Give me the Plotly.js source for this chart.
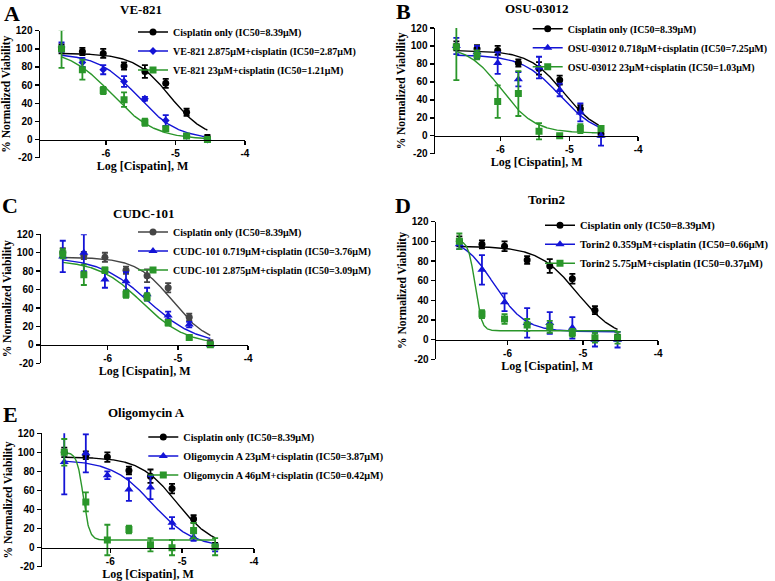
<!DOCTYPE html>
<html><head><meta charset="utf-8">
<script src="https://cdn.plot.ly/plotly-3.0.1.min.js"></script>
<style>html,body{margin:0;padding:0;background:#fff}#chart{width:775px;height:581px}</style>
</head><body><div id="chart"></div>
<script>
// ---------- DATA ----------
// x positions: log10 of cisplatin molar concentration
const logConc = [-6.64, -6.34, -6.04, -5.74, -5.44, -5.14, -4.84, -4.54];
const xTickVals = [-6, -5, -4];
const xTickText = ['-6', '-5', '-4'];
const yTickVals = [-20, 0, 20, 40, 60, 80, 100, 120];
const yTickText = ['-20', '0', '20', '40', '60', '80', '100', '120'];

const panelLetters = ['A', 'B', 'C', 'D', 'E'];
const panelTitles = ['VE-821', 'OSU-03012', 'CUDC-101', 'Torin2', 'Oligomycin A'];

// Cisplatin only control (same in every panel)
const cisName = 'Cisplatin only (IC50=8.39μM)';
const cisMean = [100, 97, 95, 81, 75, 62, 30, 2];
const cisSD = [5, 4, 5, 4, 7, 5, 4, 3];
// fitted dose-response parameters: [top, bottom, IC50 (μM), Hill slope]
const cisFit = [95, 0, 8.39, 1.7];

// A: VE-821
const aNames = ['VE-821 2.875μM+cisplatin (IC50=2.87μM)', 'VE-821 23μM+cisplatin (IC50=1.21μM)'];
const aLowMean = [102, 85, 77, 64, 45, 21, 4, 0];
const aLowSD = [5, 5, 5, 6, 2, 6, 2, 2];
const aHighMean = [100, 77, 54, 44, 19, 12, 4, 0];
const aHighSD = [21, 11, 4, 8, 4, 2, 2, 2];
const aLowFit = [95, 0, 2.87, 1.5];
const aHighFit = [100, 0, 1.21, 1.4];

// B: OSU-03012
const bNames = ['OSU-03012 0.718μM+cisplatin (IC50=7.25μM)', 'OSU-03012 23μM+cisplatin (IC50=1.03μM)'];
const bLowMean = [100, 93, 81, 63, 76, 51, 26, 0];
const bLowSD = [9, 7, 12, 8, 12, 7, 10, 11];
const bHighMean = [99, 90, 38, 47, 5, 0, 8, 8];
const bHighSD = [37, 5, 18, 25, 9, 1, 5, 3];
const bLowFit = [90, 0, 7.25, 1.6];
const bHighFit = [100, 3, 1.03, 1.8];

// C: CUDC-101
const cNames = ['CUDC-101 0.719μM+cisplatin (IC50=3.76μM)', 'CUDC-101 2.875μM+cisplatin (IC50=3.09μM)'];
const cLowMean = [96, 100, 71, 69, 55, 32, 22, 0];
const cLowSD = [17, 20, 9, 10, 7, 4, 3, 2];
const cHighMean = [99, 76, 81, 55, 52, 24, 8, 0];
const cHighSD = [5, 11, 3, 4, 4, 3, 2, 2];
const cLowFit = [95, 0, 3.76, 1.25];
const cHighFit = [92, 0, 3.09, 1.38];

// D: Torin2
const dNames = ['Torin2 0.359μM+cisplatin (IC50=0.66μM)', 'Torin2 5.75μM+cisplatin (IC50=0.37μM)'];
const dLowMean = [97, 71, 38, 17, 17, 12, 0, 0];
const dLowSD = [5, 15, 9, 15, 11, 11, 7, 8];
const dHighMean = [100, 26, 21, 15, 13, 7, 2, 2];
const dHighSD = [8, 4, 5, 6, 6, 4, 5, 6];
const dLowFit = [105, 8, 0.66, 2.1];
const dHighFit = [101, 9, 0.37, 10];

// E: Oligomycin A
const eNames = ['Oligomycin A 23μM+cisplatin (IC50=3.87μM)', 'Oligomycin A 46μM+cisplatin (IC50=0.42μM)'];
const eLowMean = [90, 99, 76, 61, 63, 26, 11, 0];
const eLowSD = [34, 20, 4, 12, 12, 6, 4, 4];
const eHighMean = [100, 48, 8, 19, 3, 0, 18, 1];
const eHighSD = [14, 10, 16, 4, 7, 8, 8, 9];
const eLowFit = [92, 0, 3.87, 1.54];
const eHighFit = [100, 8, 0.42, 10];

// ---------- LAYOUT / STYLE ----------
const W = 775, H = 581;
const fx = p => p / W, fy = p => 1 - p / H;
const SERIF = 'Liberation Serif, Times New Roman, serif';
const SANS = 'Liberation Sans, Arial, sans-serif';
const BLUE = '#1414d6', GREEN = '#2a962a';

const panels = [
  {names: aNames, low: [aLowMean, aLowSD, aLowFit], high: [aHighMean, aHighSD, aHighFit], blackColor: '#000000', lowSym: 'diamond', lowSize: 6,
   xd: [40, 245], yd: [30.7, 157.7], letter: [12, 14], title: [141, 10], leg: [133, 17.5], legSize: 10},
  {names: bNames, low: [bLowMean, bLowSD, bLowFit], high: [bHighMean, bHighSD, bHighFit], blackColor: '#000000', lowSym: 'triangle-up', lowSize: 8,
   xd: [435, 638.3], yd: [28, 153.7], letter: [403.5, 11], title: [536.7, 8], leg: [527.7, 14.2], legSize: 10},
  {names: cNames, low: [cLowMean, cLowSD, cLowFit], high: [cHighMean, cHighSD, cHighFit], blackColor: '#454545', lowSym: 'triangle-up', lowSize: 8,
   xd: [41, 248.3], yd: [234.3, 363.3], letter: [10, 205.5], title: [143, 214], leg: [133, 217.5], legSize: 10},
  {names: dNames, low: [dLowMean, dLowSD, dLowFit], high: [dHighMean, dHighSD, dHighFit], blackColor: '#000000', lowSym: 'triangle-up', lowSize: 8,
   xd: [436, 658.3], yd: [221.7, 359.3], letter: [402.5, 205.5], title: [546.7, 199.3], leg: [540, 210.8], legSize: 10.5},
  {names: eNames, low: [eLowMean, eLowSD, eLowFit], high: [eHighMean, eHighSD, eHighFit], blackColor: '#000000', lowSym: 'triangle-up', lowSize: 8,
   xd: [42, 254], yd: [433.3, 566.7], letter: [10.5, 414.5], title: [146.7, 412.3], leg: [143.3, 422.5], legSize: 10.2}
];

// four-parameter logistic fit curve drawn from the fitted parameters
function fitCurve(p) {
  const lo = Math.min(...logConc), hi = Math.max(...logConc);
  const logIC = Math.log10(p[2] * 1e-6);
  const xs = [], ys = [];
  const n = 400;
  for (let i = 0; i <= n; i++) {
    const x = lo + (hi - lo) * i / n;
    xs.push(x);
    ys.push(p[1] + (p[0] - p[1]) / (1 + Math.pow(10, (x - logIC) * p[3])));
  }
  return {xs, ys};
}

const traces = [];
const layout = {
  width: W, height: H,
  margin: {l: 0, r: 0, t: 0, b: 0, autoexpand: false},
  paper_bgcolor: '#ffffff', plot_bgcolor: 'rgba(0,0,0,0)',
  showlegend: true,
  annotations: []
};

panels.forEach((pn, i) => {
  const k = i + 1;
  const xa = 'x' + (k === 1 ? '' : k), ya = 'y' + (k === 1 ? '' : k);
  const xKey = 'xaxis' + (k === 1 ? '' : k), yKey = 'yaxis' + (k === 1 ? '' : k);
  const legKey = 'legend' + (k === 1 ? '' : k);

  const series = [
    {name: cisName, mean: cisMean, sd: cisSD, fit: cisFit, color: pn.blackColor, sym: 'circle', size: 7},
    {name: pn.names[0], mean: pn.low[0], sd: pn.low[1], fit: pn.low[2], color: BLUE, sym: pn.lowSym, size: pn.lowSize},
    {name: pn.names[1], mean: pn.high[0], sd: pn.high[1], fit: pn.high[2], color: GREEN, sym: 'square', size: 7}
  ];
  // fitted curves
  series.forEach(s => {
    const c = fitCurve(s.fit);
    traces.push({x: c.xs, y: c.ys, xaxis: xa, yaxis: ya, type: 'scatter', mode: 'lines',
      line: {color: s.color, width: 1.4}, showlegend: false, hoverinfo: 'skip'});
  });
  // data points with SD error bars
  series.forEach(s => {
    traces.push({x: logConc, y: s.mean, xaxis: xa, yaxis: ya, type: 'scatter', mode: 'markers',
      marker: {color: s.color, symbol: s.sym, size: s.size},
      error_y: {type: 'data', array: s.sd, visible: true, color: s.color, thickness: 1.8, width: 3},
      showlegend: false, name: s.name});
  });
  // legend entries
  series.forEach(s => {
    traces.push({x: [null], y: [null], xaxis: xa, yaxis: ya, type: 'scatter', mode: 'lines+markers',
      line: {color: s.color, width: 1.4}, marker: {color: s.color, symbol: s.sym, size: s.size},
      name: s.name, legend: legKey, showlegend: true});
  });

  const yBot = fy(pn.yd[1]), yTop = fy(pn.yd[0]);
  const zeroPos = yBot + (20 / 140) * (yTop - yBot);

  layout[xKey] = {
    domain: [fx(pn.xd[0]), fx(pn.xd[1])],
    range: [-6.95, -3.999],
    anchor: 'free', position: zeroPos,
    showline: true, linecolor: '#000', linewidth: 1.5,
    ticks: 'outside', ticklen: 4, tickwidth: 1.5, tickcolor: '#000',
    tickmode: 'array', tickvals: xTickVals, ticktext: xTickText,
    tickfont: {family: SANS, size: 10, color: '#000', weight: 'bold'},
    showgrid: false, zeroline: false, fixedrange: true,
    title: {text: 'Log [Cispatin], M', font: {family: SERIF, size: 12, color: '#000', weight: 'bold'}, standoff: 2}
  };
  layout[yKey] = {
    domain: [yBot, yTop],
    range: [-20, 120],
    anchor: xa,
    showline: true, linecolor: '#000', linewidth: 1.5,
    ticks: 'outside', ticklen: 4, tickwidth: 1.5, tickcolor: '#000',
    tickmode: 'array', tickvals: yTickVals, ticktext: yTickText,
    tickfont: {family: SANS, size: 10, color: '#000', weight: 'bold'},
    showgrid: false, zeroline: false, fixedrange: true,
    title: {text: '% Normalized Viability', font: {family: SERIF, size: 11.5, color: '#000', weight: 'bold'}, standoff: 3}
  };
  layout[legKey] = {
    x: fx(pn.leg[0]), y: fy(pn.leg[1]), xanchor: 'left', yanchor: 'top',
    bgcolor: 'rgba(0,0,0,0)', borderwidth: 0, traceorder: 'normal',
    font: {family: SERIF, size: pn.legSize, color: '#000', weight: 'bold'}
  };
  layout.annotations.push({
    text: panelLetters[i], xref: 'paper', yref: 'paper', x: fx(pn.letter[0]), y: fy(pn.letter[1]),
    xanchor: 'center', yanchor: 'middle', showarrow: false,
    font: {family: SERIF, size: 22, color: '#000', weight: 'bold'}
  });
  layout.annotations.push({
    text: panelTitles[i], xref: 'paper', yref: 'paper', x: fx(pn.title[0]), y: fy(pn.title[1]),
    xanchor: 'center', yanchor: 'middle', showarrow: false,
    font: {family: SERIF, size: 13, color: '#000', weight: 'bold'}
  });
});

Plotly.newPlot('chart', traces, layout, {displayModeBar: false, staticPlot: true});
</script>
</body></html>
